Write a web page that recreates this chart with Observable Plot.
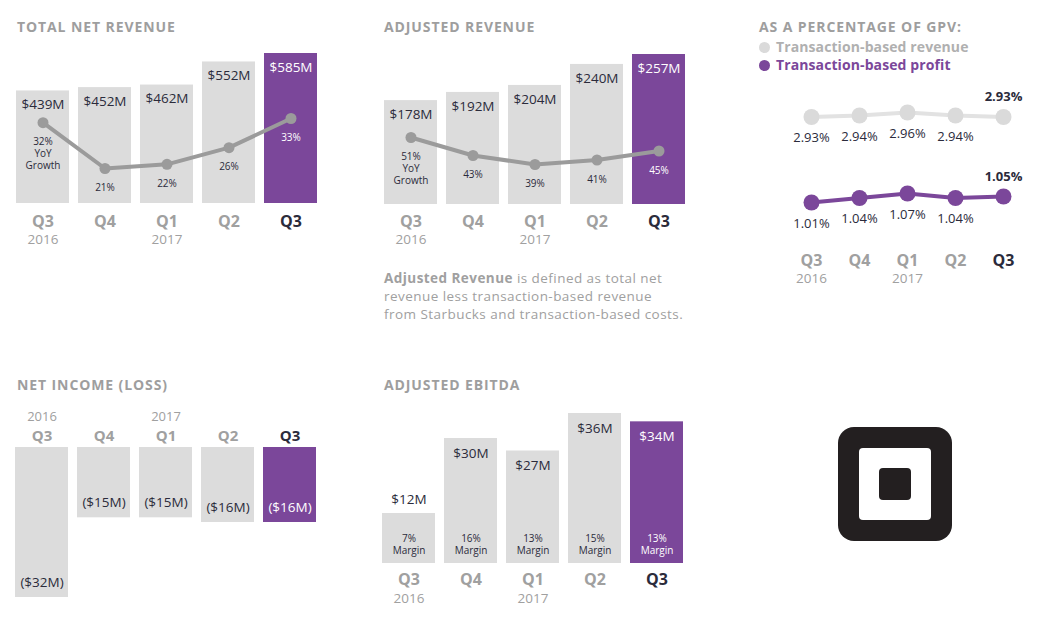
<!DOCTYPE html>
<html>
<head>
<meta charset="utf-8">
<script src="https://cdn.jsdelivr.net/npm/d3@7"></script>
<script src="https://cdn.jsdelivr.net/npm/@observablehq/plot@0.6"></script>
<style>
  body { margin: 0; background: #fff; }
  #page { position: relative; width: 1059px; height: 622px; overflow: hidden; font-family: "Open Sans", sans-serif; background: #fff; }
  #page svg { position: absolute; left: 0; top: 0; }
  .title { position: absolute; font-weight: 700; font-size: 14px; line-height: 14px; color: #9e9e9e; letter-spacing: 0.9px; white-space: nowrap; }
  .legend { position: absolute; font-weight: 700; font-size: 14px; line-height: 18px; white-space: nowrap; letter-spacing: 0.1px; }
  .legend .sw { display: inline-block; width: 11px; height: 11px; border-radius: 50%; vertical-align: -1px; margin-right: 6px; }
  .note { position: absolute; left: 384px; top: 269px; font-size: 13.5px; line-height: 18px; color: #a0a0a0; white-space: nowrap; letter-spacing: 0.45px; }
  .note b { font-weight: 700; }
  #logo { position: absolute; left: 838px; top: 427px; width: 114px; height: 114px; border-radius: 16px; background: #231f20; }
  #logo .in { position: absolute; left: 21px; top: 21px; width: 72px; height: 72px; border-radius: 4px; background: #fff; }
  #logo .dot { position: absolute; left: 20px; top: 20px; width: 32px; height: 32px; border-radius: 4px; background: #231f20; }
</style>
</head>
<body>
<div id="page">
  <div class="title" style="left:17px;top:20px">TOTAL NET REVENUE</div>
  <div class="title" style="left:384px;top:20px">ADJUSTED REVENUE</div>
  <div class="title" style="left:759px;top:20px">AS A PERCENTAGE OF GPV:</div>
  <div class="legend" style="left:759px;top:38px;color:#b0b0b0"><span class="sw" style="background:#dadada"></span>Transaction-based revenue</div>
  <div class="legend" style="left:759px;top:56px;color:#7b479a"><span class="sw" style="background:#7b479a"></span>Transaction-based profit</div>
  <div class="note"><b>Adjusted Revenue</b> is defined as total net<br>revenue less transaction-based revenue<br>from Starbucks and transaction-based costs.</div>
  <div class="title" style="left:17px;top:378px">NET INCOME (LOSS)</div>
  <div class="title" style="left:384px;top:378px">ADJUSTED EBITDA</div>
  <div id="logo"><div class="in"><div class="dot"></div></div></div>
</div>
<script>
// ---- data ----
const periods = ["Q3 2016", "Q4 2016", "Q1 2017", "Q2 2017", "Q3 2017"];
const quarterLabels = ["Q3", "Q4", "Q1", "Q2", "Q3"];
const yearLabels = ["2016", "", "2017", "", ""];
const totalRevenue = [439, 452, 462, 552, 585];
const totalRevenueGrowth = [32, 21, 22, 26, 33];
const adjustedRevenue = [178, 192, 204, 240, 257];
const adjustedRevenueGrowth = [51, 43, 39, 41, 45];
const gpvRevenuePct = [2.93, 2.94, 2.96, 2.94, 2.93];
const gpvProfitPct = [1.01, 1.04, 1.07, 1.04, 1.05];
const netIncome = [-32, -15, -15, -16, -16];
const adjustedEbitda = [12, 30, 27, 36, 34];
const ebitdaMargin = [7, 16, 13, 15, 13];

// ---- style ----
const W = 1059, H = 622;
const purple = "#7b479a", barGray = "#dcdcdc", dark = "#2b2b3b", labelGray = "#a0a0a0", lineGray = "#9b9b9b";
const gpvGray = "#dadada", gpvLine = "#e2e2e2";
const page = document.getElementById("page");

function rows(values, extra = {}) {
  return periods.map((p, i) => {
    const r = { period: p, q: quarterLabels[i], year: yearLabels[i], value: values[i], current: i === periods.length - 1, i };
    for (const k in extra) r[k] = extra[k][i];
    return r;
  });
}
function band(r0) {
  return { type: "band", domain: periods, range: [r0, r0 + 310], paddingInner: 9 / 62, paddingOuter: 4.5 / 62, round: false, axis: null };
}
function add(opts) {
  page.appendChild(Plot.plot({ width: W, height: H, margin: 0, style: { background: "transparent", fontFamily: "Open Sans", overflow: "visible" }, ...opts }));
}
function quarterAxis(data, qy, yy) {
  return [
    Plot.text(data, { x: "period", frameAnchor: "top", lineAnchor: "middle", dy: qy, text: "q", fontSize: 16, fontWeight: 700, fill: d => d.current ? dark : labelGray }),
    Plot.text(data, { x: "period", frameAnchor: "top", lineAnchor: "middle", dy: yy, text: "year", fontSize: 13.5, fill: labelGray })
  ];
}
const barFill = d => d.current ? purple : barGray;
const txtFill = d => d.current ? "#fff" : dark;

// ---- Total net revenue ----
const rev = rows(totalRevenue, { growth: totalRevenueGrowth });
add({
  x: band(11.5),
  y: { domain: [0, d3.max(totalRevenue)], range: [203, 53], axis: null },
  marks: [
    Plot.barY(rev, { x: "period", y: "value", fill: barFill }),
    Plot.text(rev, { x: "period", y: "value", dy: 14, text: d => `$${d.value}M`, fill: txtFill, fontSize: 13.5 }),
    ...quarterAxis(rev, 221, 239)
  ]
});
add({
  x: band(11.5),
  y: { domain: [21, 33], range: [168, 118], axis: null },
  marks: [
    Plot.line(rev, { x: "period", y: "growth", stroke: lineGray, strokeWidth: 4 }),
    Plot.dot(rev, { x: "period", y: "growth", r: 5.5, fill: lineGray }),
    Plot.text(rev, { x: "period", y: "growth", dy: 14, lineAnchor: "top", lineHeight: 1.2, fontSize: 10,
      text: d => d.i === 0 ? `${d.growth}%\nYoY\nGrowth` : `${d.growth}%`, fill: txtFill })
  ]
});

// ---- Adjusted revenue ----
const adj = rows(adjustedRevenue, { growth: adjustedRevenueGrowth });
add({
  x: band(379.5),
  y: { domain: [0, d3.max(adjustedRevenue)], range: [204, 54], axis: null },
  marks: [
    Plot.barY(adj, { x: "period", y: "value", fill: barFill }),
    Plot.text(adj, { x: "period", y: "value", dy: 14, text: d => `$${d.value}M`, fill: txtFill, fontSize: 13.5 }),
    ...quarterAxis(adj, 221, 239)
  ]
});
add({
  x: band(379.5),
  y: { domain: [39, 51], range: [164, 137], axis: null },
  marks: [
    Plot.line(adj, { x: "period", y: "growth", stroke: lineGray, strokeWidth: 4 }),
    Plot.dot(adj, { x: "period", y: "growth", r: 5.5, fill: lineGray }),
    Plot.text(adj, { x: "period", y: "growth", dy: 14, lineAnchor: "top", lineHeight: 1.2, fontSize: 10,
      text: d => d.i === 0 ? `${d.growth}%\nYoY\nGrowth` : `${d.growth}%`, fill: txtFill })
  ]
});

// ---- GPV percentages ----
const gpvX = { type: "point", domain: periods, range: [786, 1028], axis: null };
const gRev = rows(gpvRevenuePct);
const gPro = rows(gpvProfitPct);
function gpvMarks(data, color, lineColor, r) {
  return [
    Plot.line(data, { x: "period", y: "value", stroke: lineColor, strokeWidth: 4 }),
    Plot.dot(data, { x: "period", y: "value", r, fill: color }),
    Plot.text(data, { filter: d => !d.current, x: "period", y: "value", dy: 21, text: d => `${d.value.toFixed(2)}%`, fontSize: 13, fill: dark }),
    Plot.text(data, { filter: d => d.current, x: "period", y: "value", dy: -20, text: d => `${d.value.toFixed(2)}%`, fontSize: 13, fontWeight: 700, fill: dark })
  ];
}
add({
  x: gpvX,
  y: { domain: [2.90, 3.00], range: [121, 106], axis: null },
  marks: gpvMarks(gRev, gpvGray, gpvLine, 8)
});
add({
  x: gpvX,
  y: { domain: [1.00, 1.10], range: [203.5, 188.5], axis: null },
  marks: [
    ...gpvMarks(gPro, purple, purple, 8),
    ...quarterAxis(gPro, 260, 278)
  ]
});

// ---- Net income (loss) ----
const ni = rows(netIncome);
add({
  x: band(10.5),
  y: { domain: [d3.min(netIncome), 0], range: [597, 447], axis: null },
  marks: [
    Plot.barY(ni, { x: "period", y: "value", fill: barFill }),
    Plot.text(ni, { x: "period", y: "value", dy: -15, text: d => `($${-d.value}M)`, fill: txtFill, fontSize: 13.5 }),
    Plot.text(ni, { x: "period", frameAnchor: "top", lineAnchor: "middle", dy: 436, text: "q", fontSize: 15, fontWeight: 700, fill: d => d.current ? dark : labelGray }),
    Plot.text(ni, { x: "period", frameAnchor: "top", lineAnchor: "middle", dy: 416, text: "year", fontSize: 13, fill: labelGray })
  ]
});

// ---- Adjusted EBITDA ----
const eb = rows(adjustedEbitda, { margin: ebitdaMargin });
add({
  x: band(377.5),
  y: { domain: [0, d3.max(adjustedEbitda)], range: [563, 413], axis: null },
  marks: [
    Plot.barY(eb, { x: "period", y: "value", fill: barFill }),
    Plot.text(eb, { filter: d => d.value >= 20, x: "period", y: "value", dy: 15, text: d => `$${d.value}M`, fill: txtFill, fontSize: 13.5 }),
    Plot.text(eb, { filter: d => d.value < 20, x: "period", y: "value", dy: -14, text: d => `$${d.value}M`, fill: dark, fontSize: 13.5 }),
    Plot.text(eb, { x: "period", frameAnchor: "top", lineAnchor: "middle", dy: 544, lineHeight: 1.2, fontSize: 10, text: d => `${d.margin}%\nMargin`, fill: txtFill }),
    ...quarterAxis(eb, 579, 598)
  ]
});
</script>
</body>
</html>
